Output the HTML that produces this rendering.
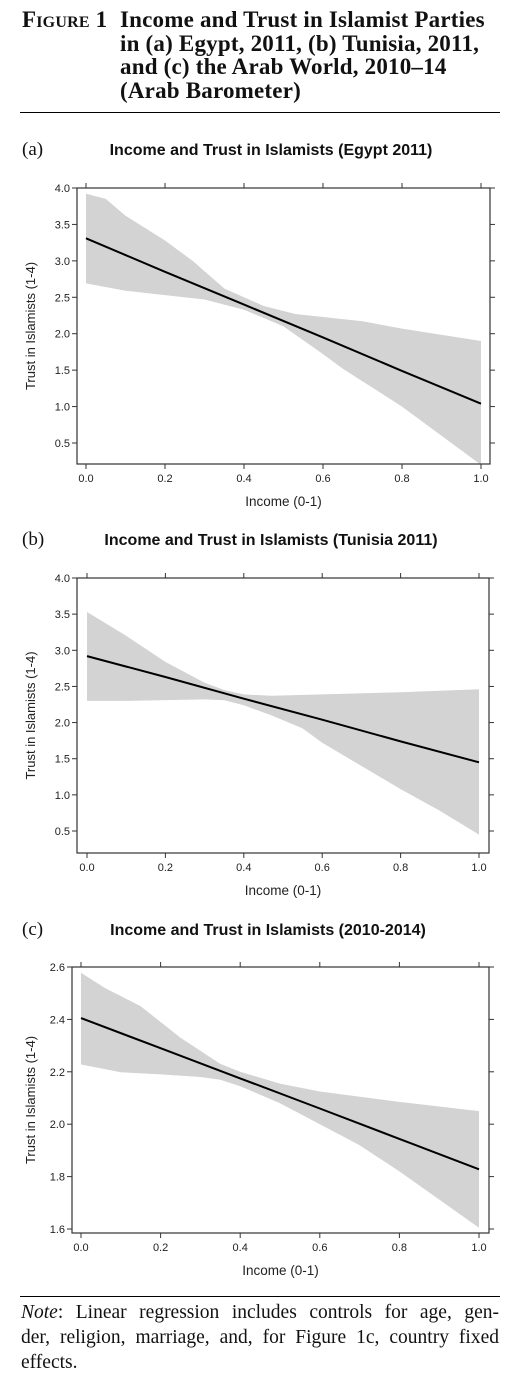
<!DOCTYPE html>
<html><head><meta charset="utf-8">
<style>
html,body{margin:0;padding:0;background:#fff;}
body{width:518px;height:1392px;position:relative;overflow:hidden;font-family:"Liberation Serif",serif;}
#hdr{position:absolute;left:22px;top:8px;width:490px;font-weight:bold;font-size:23px;line-height:23.5px;color:#111;letter-spacing:0.2px;}
#hdr .fig{position:absolute;left:0;top:0;font-variant:small-caps;}
#hdr .ttl{position:absolute;left:98px;top:0;width:400px;white-space:nowrap;}
.rule{position:absolute;left:20px;width:480px;height:1px;background:#000;}
#note{position:absolute;left:21px;top:1300px;width:478px;font-size:19.5px;line-height:25px;color:#111;}
#note .j{text-align:justify;text-align-last:justify;}
svg{position:absolute;left:0;top:0;}
</style></head><body>
<div id="hdr">
<span class="fig">Figure 1</span>
<span class="ttl">Income and Trust in Islamist Parties<br>in (a) Egypt, 2011, (b) Tunisia, 2011,<br>and (c) the Arab World, 2010–14<br>(Arab Barometer)</span>
</div>
<div class="rule" style="top:112px"></div>
<svg id="chart" width="518" height="1392"></svg>
<div class="rule" style="top:1296px"></div>
<div id="note"><div class="j"><i>Note</i>: Linear regression includes controls for age, gen-</div><div class="j">der, religion, marriage, and, for Figure 1c, country fixed</div><div>effects.</div></div>
<script>
// Panel (a) Egypt
const aFitX=[0,0.2,0.4,0.6,0.8,1.0];
const aFitY=[3.31,2.85,2.40,1.95,1.49,1.04];
const aUpX=[0,0.05,0.1,0.2,0.27,0.35,0.45,0.53,0.7,0.8,1.0];
const aUpY=[3.92,3.85,3.62,3.28,3.0,2.62,2.38,2.27,2.17,2.07,1.90];
const aLoX=[0,0.1,0.2,0.3,0.4,0.5,0.6,0.65,0.8,1.0];
const aLoY=[2.69,2.59,2.53,2.47,2.33,2.10,1.72,1.52,1.00,0.20];
const aYTicks=[0.5,1.0,1.5,2.0,2.5,3.0,3.5,4.0];
// Panel (b) Tunisia
const bFitX=[0,0.2,0.4,0.6,0.8,1.0];
const bFitY=[2.92,2.63,2.33,2.04,1.74,1.45];
const bUpX=[0,0.1,0.2,0.3,0.35,0.4,0.47,0.6,0.8,1.0];
const bUpY=[3.53,3.20,2.84,2.55,2.45,2.39,2.37,2.39,2.42,2.46];
const bLoX=[0,0.1,0.3,0.35,0.4,0.47,0.55,0.6,0.8,0.9,1.0];
const bLoY=[2.30,2.30,2.32,2.31,2.24,2.10,1.92,1.72,1.08,0.78,0.45];
const bYTicks=[0.5,1.0,1.5,2.0,2.5,3.0,3.5,4.0];
// Panel (c) Arab World
const cFitX=[0,0.2,0.4,0.6,0.8,1.0];
const cFitY=[2.405,2.29,2.175,2.06,1.944,1.828];
const cUpX=[0,0.06,0.15,0.25,0.35,0.4,0.5,0.6,0.8,1.0];
const cUpY=[2.578,2.52,2.45,2.33,2.23,2.20,2.155,2.125,2.085,2.05];
const cLoX=[0,0.1,0.2,0.3,0.35,0.4,0.5,0.6,0.7,0.8,1.0];
const cLoY=[2.228,2.198,2.19,2.18,2.17,2.145,2.08,2.0,1.92,1.82,1.605];
const cYTicks=[1.6,1.8,2.0,2.2,2.4,2.6];
const xTicks=[0,0.2,0.4,0.6,0.8,1.0];

const NS="http://www.w3.org/2000/svg";
const svg=document.getElementById('chart');
function mk(tag,attrs,parent){const e=document.createElementNS(NS,tag);for(const k in attrs)e.setAttribute(k,attrs[k]);(parent||svg).appendChild(e);return e;}

function panel(p){
  const g=mk('g',{});
  
  
  const sx=v=>p.x0+(p.x1-p.x0)*v;
  const sy=v=>p.yA+(p.yB-p.yA)*(v-p.vA)/(p.vB-p.vA);
  const lab=mk('text',{x:22,y:p.titleY,'font-family':'Liberation Serif, serif','font-size':19,fill:'#111'},g);
  lab.textContent='('+p.id+')';
  
  
  const t=mk('text',{x:p.titleX,y:p.titleY,'text-anchor':'middle','font-family':'Liberation Sans, sans-serif','font-size':16,'font-weight':'bold',fill:'#111'},g);
  t.textContent=p.title;
  
  
  let d='';
  p.upX.forEach((x,i)=>{d+=(i?'L':'M')+sx(x).toFixed(1)+','+sy(p.upY[i]).toFixed(1);});
  for(let i=p.loX.length-1;i>=0;i--)d+='L'+sx(p.loX[i]).toFixed(1)+','+sy(p.loY[i]).toFixed(1);
  const band=mk('path',{d:d+'Z',fill:'#d3d3d3'},g);
  
  
  let ld='';
  p.fitX.forEach((x,i)=>{ld+=(i?'L':'M')+sx(x).toFixed(1)+','+sy(p.fitY[i]).toFixed(1);});
  const line=mk('path',{d:ld,fill:'none',stroke:'#000','stroke-width':2},g);
  
  
  const box=mk('rect',{x:p.bx0,y:p.by0,width:p.bx1-p.bx0,height:p.by1-p.by0,fill:'none',stroke:'#333','stroke-width':1.2},g);
  
  
  xTicks.forEach(v=>{
    const x=sx(v);
    mk('line',{x1:x,x2:x,y1:p.by1,y2:p.by1+5,stroke:'#333'},g);
    mk('line',{x1:x,x2:x,y1:p.by0,y2:p.by0-5,stroke:'#333'},g);
    const tl=mk('text',{x:x,y:p.by1+18,'text-anchor':'middle','font-family':'Liberation Sans, sans-serif','font-size':11,fill:'#222'},g);
    tl.textContent=v.toFixed(1);
    
    
  });
  p.yTicks.forEach(v=>{
    const y=sy(v);
    mk('line',{x1:p.bx0,x2:p.bx0-5,y1:y,y2:y,stroke:'#333'},g);
    mk('line',{x1:p.bx1,x2:p.bx1+5,y1:y,y2:y,stroke:'#333'},g);
    const tl=mk('text',{x:p.bx0-7,y:y+4,'text-anchor':'end','font-family':'Liberation Sans, sans-serif','font-size':11,fill:'#222'},g);
    tl.textContent=v.toFixed(1);
    
    
  });
  const xl=mk('text',{x:(p.bx0+p.bx1)/2,y:p.by1+42,'text-anchor':'middle','font-family':'Liberation Sans, sans-serif','font-size':13.5,fill:'#222'},g);
  xl.textContent='Income (0-1)';
  
  
  const cy=(p.by0+p.by1)/2;
  const yl=mk('text',{x:p.ylx,y:cy,'text-anchor':'middle','font-family':'Liberation Sans, sans-serif','font-size':13,fill:'#222',transform:'rotate(-90 '+p.ylx+' '+cy+')'},g);
  yl.textContent='Trust in Islamists (1-4)';
  
  
}

panel({id:'a',title:'Income and Trust in Islamists (Egypt 2011)',titleX:271,titleY:155,
  x0:86,x1:481,bx0:77,bx1:490,by0:188,by1:464,yA:188,vA:4.0,yB:443,vB:0.5,ylx:35,
  fitX:aFitX,fitY:aFitY,upX:aUpX,upY:aUpY,loX:aLoX,loY:aLoY,yTicks:aYTicks});
panel({id:'b',title:'Income and Trust in Islamists (Tunisia 2011)',titleX:271,titleY:545,
  x0:87,x1:479,bx0:77,bx1:489,by0:578,by1:853,yA:578,vA:4.0,yB:831,vB:0.5,ylx:35,
  fitX:bFitX,fitY:bFitY,upX:bUpX,upY:bUpY,loX:bLoX,loY:bLoY,yTicks:bYTicks});
panel({id:'c',title:'Income and Trust in Islamists (2010-2014)',titleX:268,titleY:935,
  x0:81,x1:479,bx0:72,bx1:489,by0:967,by1:1233,yA:967,vA:2.6,yB:1229,vB:1.6,ylx:35,
  fitX:cFitX,fitY:cFitY,upX:cUpX,upY:cUpY,loX:cLoX,loY:cLoY,yTicks:cYTicks});
</script>
</body></html>
